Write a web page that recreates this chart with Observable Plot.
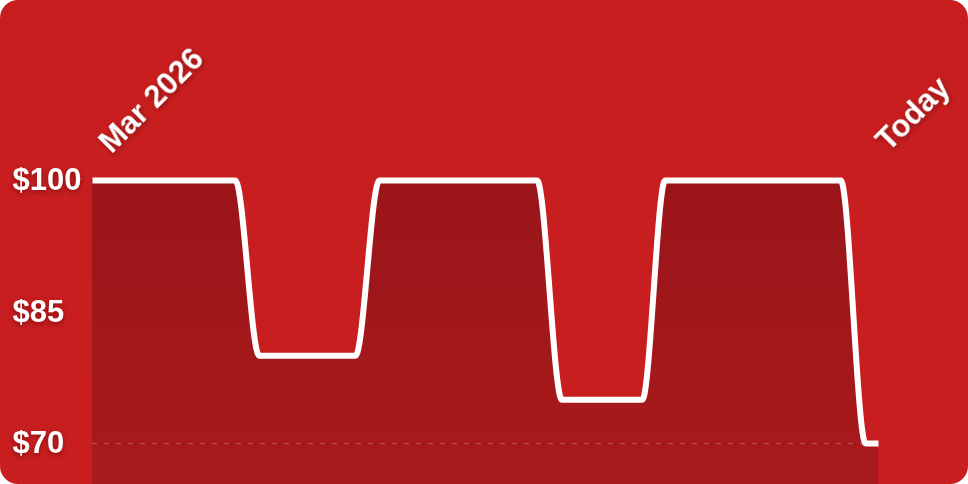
<!DOCTYPE html>
<html>
<head>
<meta charset="utf-8">
<script src="https://cdn.jsdelivr.net/npm/d3@7"></script>
<script src="https://cdn.jsdelivr.net/npm/@observablehq/plot@0.6"></script>
<style>
  html, body { margin: 0; padding: 0; background: #ffffff; }
  #card {
    width: 968px; height: 484px; overflow: hidden;
    background: #C81E1F; border-radius: 18px; position: relative;
  }
  #card svg { display: block; overflow: visible; }
  #card svg text { filter: drop-shadow(0px 2px 2.5px rgba(60,0,0,0.45)); }
</style>
</head>
<body>
<div id="card"></div>
<script>
// ---- data ----
const dates = [
  "2026-03-01T00:00Z", "2026-03-07T00:00Z", "2026-03-08T00:00Z",
  "2026-03-12T01:00Z", "2026-03-13T01:00Z", "2026-03-19T16:00Z",
  "2026-03-20T17:00Z", "2026-03-24T02:00Z", "2026-03-25T01:00Z",
  "2026-04-01T10:00Z", "2026-04-02T11:00Z", "2026-04-03T00:00Z"
];
const prices = [100, 100, 80, 80, 100, 100, 75, 75, 100, 100, 70, 70];
const yTicks = [70, 85, 100];
const startLabel = "Mar 2026";
const endLabel = "Today";

const data = dates.map((d, i) => ({date: new Date(d), price: prices[i]}));
const first = data[0], last = data[data.length - 1];

const gradient = () => {
  const defs = d3.create("svg:defs");
  const g = defs.append("linearGradient")
    .attr("id", "areaGrad")
    .attr("gradientUnits", "userSpaceOnUse")
    .attr("x1", 0).attr("x2", 0).attr("y1", 180).attr("y2", 484);
  g.append("stop").attr("offset", "0%").attr("stop-color", "#9A1519");
  g.append("stop").attr("offset", "100%").attr("stop-color", "#A91A1C");
  return defs.node();
};

const chart = Plot.plot({
  width: 968,
  height: 484,
  marginLeft: 92,
  marginRight: 90,
  marginTop: 180,
  marginBottom: 41,
  style: {background: "transparent", fontFamily: "'Liberation Sans', Arial, Helvetica, sans-serif", overflow: "visible"},
  x: {type: "utc", domain: [first.date, last.date], axis: null},
  y: {domain: [70, 100], axis: null},
  marks: [
    gradient,
    Plot.areaY(data, {x: "date", y1: 65, y2: "price", curve: "monotone-x", fill: "url(#areaGrad)"}),
    Plot.ruleY([70], {stroke: "rgba(255,255,255,0.2)", strokeWidth: 1.5, strokeDasharray: "5,7"}),
    Plot.line(data, {x: "date", y: "price", curve: "monotone-x", stroke: "white", strokeWidth: 6, strokeLinejoin: "round", strokeLinecap: "butt"}),
    Plot.text(yTicks, {y: d => d, text: d => "$" + d, frameAnchor: "left", textAnchor: "start", dx: -80,
      fill: "white", fontSize: 31, fontWeight: "bold"}),
    Plot.text([first], {x: "date", text: () => startLabel, frameAnchor: "top", rotate: -45, textAnchor: "start",
      lineAnchor: "bottom", dx: 19, dy: -26, fill: "white", fontSize: 31, fontWeight: "bold"}),
    Plot.text([last], {x: "date", text: () => endLabel, frameAnchor: "top", rotate: -45, textAnchor: "start",
      lineAnchor: "bottom", dx: 10, dy: -28, fill: "white", fontSize: 31, fontWeight: "bold"})
  ]
});
document.getElementById("card").appendChild(chart);
</script>
</body>
</html>
